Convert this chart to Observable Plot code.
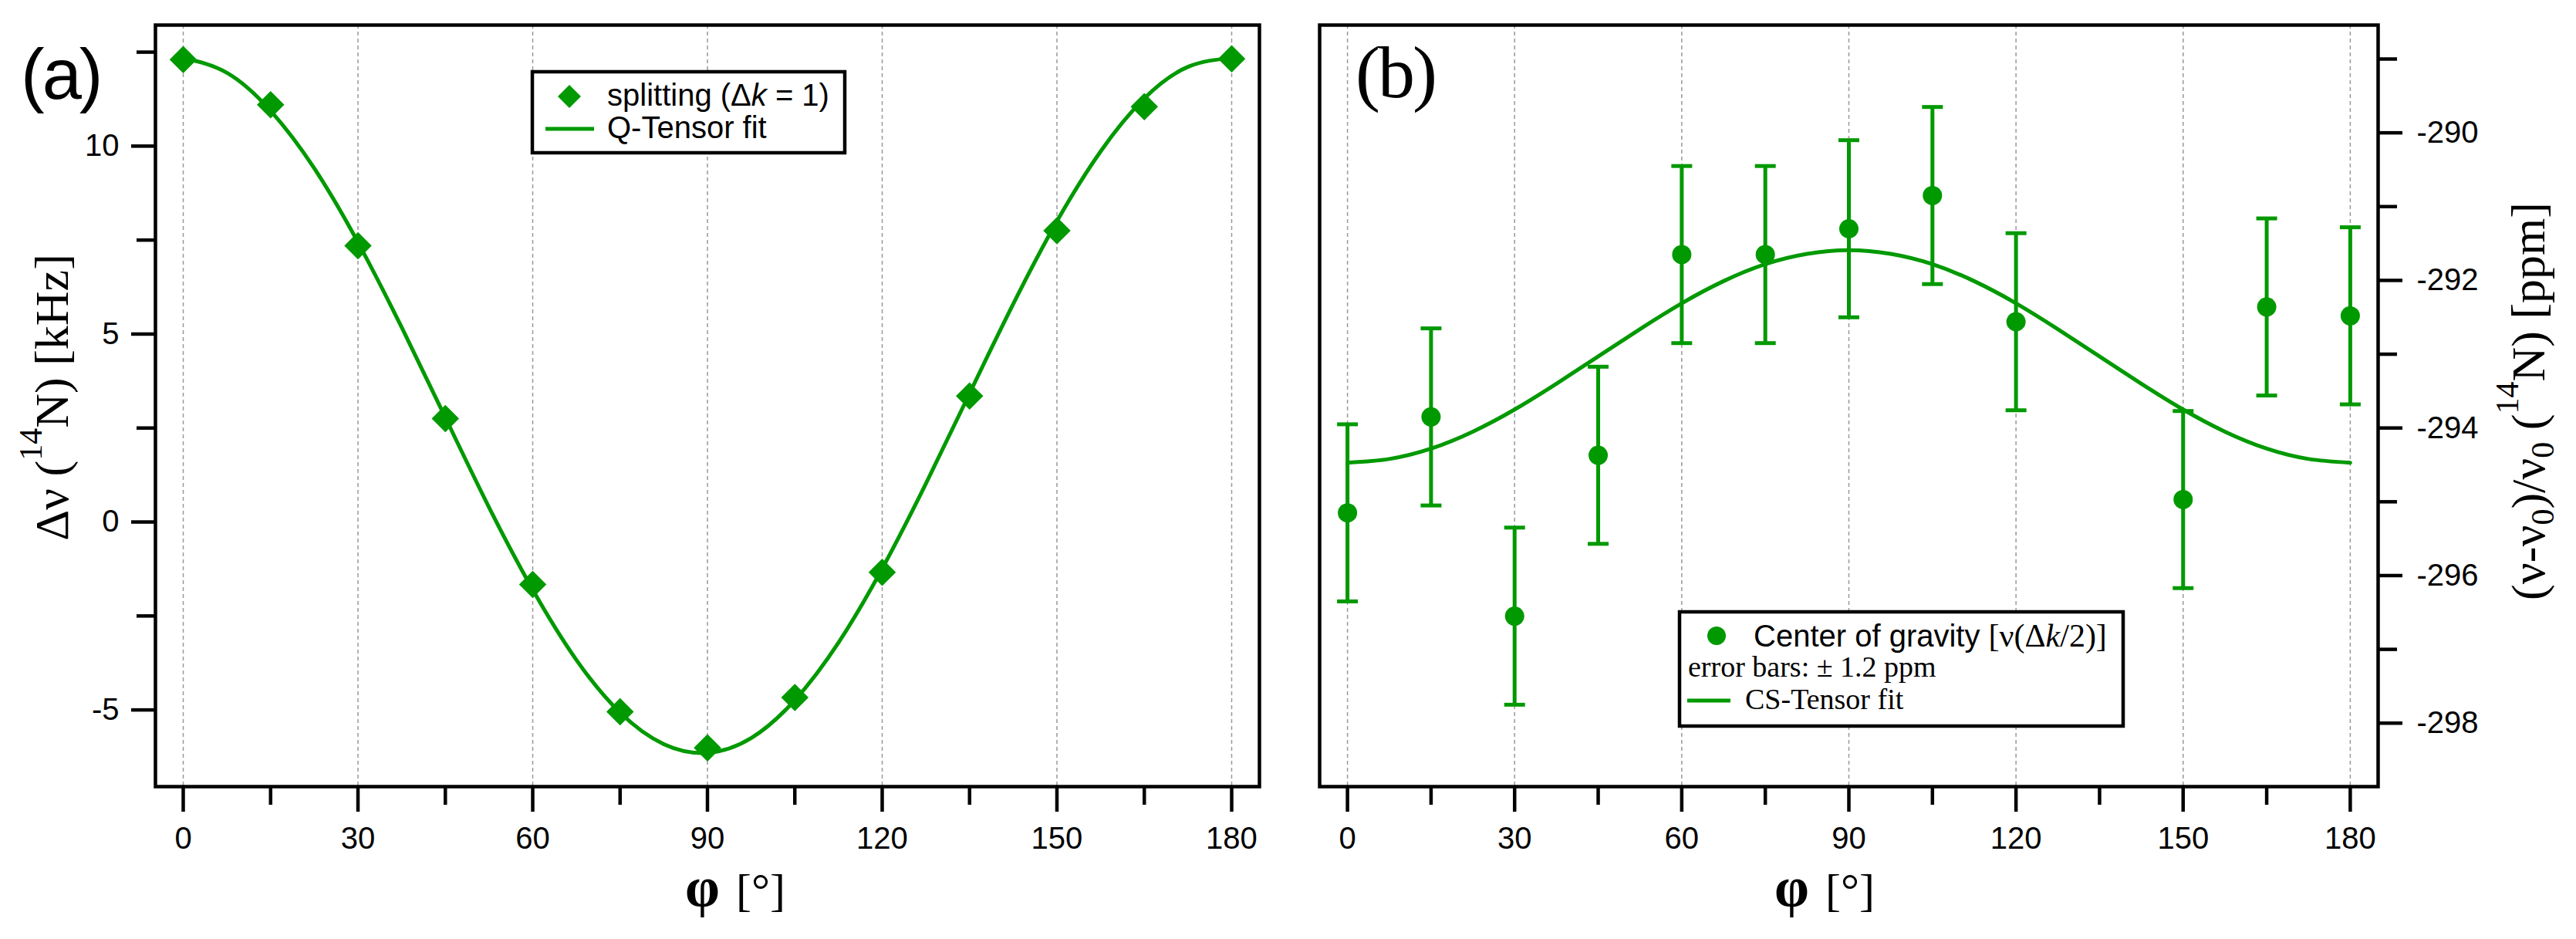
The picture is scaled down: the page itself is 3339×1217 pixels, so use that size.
<!DOCTYPE html>
<html><head><meta charset="utf-8">
<script src="https://cdn.jsdelivr.net/npm/d3@7"></script>
<script src="https://cdn.jsdelivr.net/npm/@observablehq/plot@0.6"></script>
<style>
html,body{margin:0;padding:0;background:#fff;}
#wrap{position:relative;width:3339px;height:1217px;overflow:hidden;background:#fff;}
#wrap svg{position:absolute;top:0;}
</style></head><body><div id="wrap"></div>
<script>
// ---------- data ----------
const angles = [0, 15, 30, 45, 60, 75, 90, 105, 120, 135, 150, 165, 180];
const splitting = [12.30, 11.10, 7.35, 2.75, -1.66, -5.05, -6.01, -4.67, -1.34, 3.35, 7.75, 11.05, 12.32];

const fitAngles = [0, 7.5, 15, 22.5, 30, 37.5, 45, 52.5, 60, 67.5, 75, 82.5, 90,
                   97.5, 105, 112.5, 120, 127.5, 135, 142.5, 150, 157.5, 165, 172.5, 180];
const qTensorFit = [12.34, 11.95, 10.94, 9.41, 7.44, 5.18, 2.78, 0.39, -1.80, -3.67, -5.07, -5.91, -6.14,
                    -5.75, -4.74, -3.21, -1.24, 1.02, 3.42, 5.80, 8.00, 9.86, 11.27, 12.11, 12.34];

const cogAngles = [0, 15, 30, 45, 60, 75, 90, 105, 120, 150, 165, 180];
const centerOfGravity = [-295.15, -293.85, -296.55, -294.37, -291.65, -291.65, -291.30, -290.85, -292.56, -294.97, -292.36, -292.48];
const errorBar = 1.2;
const csTensorFit = [-294.47, -294.42, -294.28, -294.05, -293.75, -293.40, -293.03, -292.66, -292.31, -292.01, -291.78, -291.64, -291.59,
                     -291.64, -291.78, -292.01, -292.31, -292.66, -293.03, -293.40, -293.75, -294.05, -294.28, -294.42, -294.47];

const majorTicksX = [0, 30, 60, 90, 120, 150, 180];
const minorTicksX = [15, 45, 75, 105, 135, 165];
const majorTicksA = [-5, 0, 5, 10];
const minorTicksA = [-2.5, 2.5, 7.5, 12.5];
const majorTicksB = [-298, -296, -294, -292, -290];
const minorTicksB = [-297, -295, -293, -291, -289];

// ---------- styles ----------
const green = "#009900";
const tf = d => String(d);
const blank = () => "";
const sans = "'Liberation Sans', Arial, Helvetica, sans-serif";
const serif = "'Liberation Serif', 'Times New Roman', serif";
const axStyle = {strokeWidth: 4.5, fontSize: 40, label: null};

const wrap = document.getElementById("wrap");

const splitData = angles.map((a, i) => ({a, v: splitting[i]}));
const qFit = fitAngles.map((a, i) => ({a, v: qTensorFit[i]}));
const cogData = cogAngles.map((a, i) => ({a, v: centerOfGravity[i], lo: centerOfGravity[i] - errorBar, hi: centerOfGravity[i] + errorBar}));
const csFit = fitAngles.map((a, i) => ({a, v: csTensorFit[i]}));

const capSymbol = {
  draw(context, size) {
    const r = Math.sqrt(size / Math.PI);
    context.moveTo(-r, 0);
    context.lineTo(r, 0);
  }
};

const grid = () => Plot.ruleX(majorTicksX, {stroke: "#999", strokeWidth: 1.5, strokeDasharray: "5,4"});

const plotA = Plot.plot({
  width: 1680, height: 1217,
  marginLeft: 201, marginRight: 48, marginTop: 32, marginBottom: 198,
  style: {fontFamily: sans, fontSize: "40px", color: "#000", background: "transparent", overflow: "visible"},
  x: {domain: [-4.77, 184.77]},
  y: {domain: [-7.04, 13.22]},
  marks: [
    grid(),
    Plot.line(qFit, {x: "a", y: "v", stroke: green, strokeWidth: 5, curve: "natural"}),
    Plot.dot(splitData, {x: "a", y: "v", symbol: "diamond2", r: 16, fill: green, stroke: "none"}),
    Plot.axisX({...axStyle, ticks: majorTicksX, tickSize: 33, tickPadding: 19, tickFormat: tf}),
    Plot.axisX({...axStyle, ticks: minorTicksX, tickSize: 24, tickFormat: blank}),
    Plot.axisY({...axStyle, ticks: majorTicksA, tickSize: 31, tickPadding: 16, tickFormat: tf}),
    Plot.axisY({...axStyle, ticks: minorTicksA, tickSize: 24, tickFormat: blank}),
    Plot.frame({stroke: "#000", strokeWidth: 4.5})
  ]
});
plotA.style.left = "0px";
wrap.appendChild(plotA);

const plotB = Plot.plot({
  width: 1659, height: 1217,
  marginLeft: 30, marginRight: 257, marginTop: 32, marginBottom: 198,
  style: {fontFamily: sans, fontSize: "40px", color: "#000", background: "transparent", overflow: "visible"},
  x: {domain: [-5, 185]},
  y: {domain: [-298.86, -288.54]},
  marks: [
    grid(),
    Plot.line(csFit, {x: "a", y: "v", stroke: green, strokeWidth: 5, curve: "natural"}),
    Plot.ruleX(cogData, {x: "a", y1: "lo", y2: "hi", stroke: green, strokeWidth: 5}),
    Plot.dot(cogData, {x: "a", y: "lo", symbol: capSymbol, r: 13.5, stroke: green, strokeWidth: 5, fill: "none"}),
    Plot.dot(cogData, {x: "a", y: "hi", symbol: capSymbol, r: 13.5, stroke: green, strokeWidth: 5, fill: "none"}),
    Plot.dot(cogData, {x: "a", y: "v", r: 12.5, fill: green, stroke: "none"}),
    Plot.axisX({...axStyle, ticks: majorTicksX, tickSize: 33, tickPadding: 19, tickFormat: tf}),
    Plot.axisX({...axStyle, ticks: minorTicksX, tickSize: 24, tickFormat: blank}),
    Plot.axisY({...axStyle, anchor: "right", ticks: majorTicksB, tickSize: 31, tickPadding: 19, tickFormat: tf}),
    Plot.axisY({...axStyle, anchor: "right", ticks: minorTicksB, tickSize: 24, tickFormat: blank}),
    Plot.frame({stroke: "#000", strokeWidth: 4.5})
  ]
});
plotB.style.left = "1680px";
wrap.appendChild(plotB);

// ---------- overlay: panel letters, axis titles, legends ----------
const ov = d3.select(wrap).append("svg")
  .attr("width", 3339).attr("height", 1217)
  .style("left", "0px").style("pointer-events", "none");

ov.append("text").attr("x", 27).attr("y", 128)
  .attr("font-family", sans).attr("font-size", 92).attr("font-weight", 300)
  .attr("letter-spacing", -3).text("(a)");
ov.append("text").attr("x", 1757).attr("y", 126)
  .attr("font-family", serif).attr("font-size", 96).attr("letter-spacing", -3).text("(b)");

// y label (a)
{
  const t = ov.append("text").attr("transform", "translate(88,515) rotate(-90)")
    .attr("text-anchor", "middle").attr("font-family", serif).attr("font-size", 62);
  t.append("tspan").text("Δν (");
  t.append("tspan").attr("dy", -34).attr("font-size", 42).text("14");
  t.append("tspan").attr("dy", 34).text("N) [kHz]");
}
// y label (b)
{
  const t = ov.append("text").attr("transform", "translate(3298,520) rotate(-90)")
    .attr("text-anchor", "middle").attr("font-family", serif).attr("font-size", 62);
  t.append("tspan").text("(ν-ν");
  t.append("tspan").attr("dy", 12).attr("font-size", 42).text("0");
  t.append("tspan").attr("dy", -12).text(")/ν");
  t.append("tspan").attr("dy", 12).attr("font-size", 42).text("0");
  t.append("tspan").attr("dy", -12).text(" (");
  t.append("tspan").attr("dy", -34).attr("font-size", 42).text("14");
  t.append("tspan").attr("dy", 34).text("N) [ppm]");
}
// x labels
for (const x0 of [888, 2300]) {
  const t = ov.append("text").attr("x", x0).attr("y", 1174)
    .attr("font-family", serif).attr("font-size", 60);
  t.append("tspan").attr("font-size", 72).attr("font-weight", "bold").text("φ");
  t.append("tspan").attr("dx", 6).text(" [°]");
}

// legend (a)
ov.append("rect").attr("x", 690).attr("y", 93).attr("width", 405).attr("height", 105)
  .attr("fill", "#fff").attr("stroke", "#000").attr("stroke-width", 4.5);
ov.append("path").attr("d", "M738,110L753,125L738,140L723,125Z").attr("fill", green);
ov.append("line").attr("x1", 707).attr("x2", 770).attr("y1", 167).attr("y2", 167)
  .attr("stroke", green).attr("stroke-width", 5);
{
  const t = ov.append("text").attr("x", 787).attr("y", 137).attr("font-family", sans).attr("font-size", 40);
  t.append("tspan").text("splitting (Δ");
  t.append("tspan").attr("font-style", "italic").text("k");
  t.append("tspan").text(" = 1)");
  ov.append("text").attr("x", 787).attr("y", 179).attr("font-family", sans).attr("font-size", 40).text("Q-Tensor fit");
}

// legend (b)
ov.append("rect").attr("x", 2177).attr("y", 793).attr("width", 575).attr("height", 148)
  .attr("fill", "#fff").attr("stroke", "#000").attr("stroke-width", 4.5);
ov.append("circle").attr("cx", 2225).attr("cy", 824).attr("r", 12).attr("fill", green);
{
  const t = ov.append("text").attr("x", 2273).attr("y", 838);
  t.append("tspan").attr("font-family", sans).attr("font-size", 40).text("Center of gravity ");
  t.append("tspan").attr("font-family", serif).attr("font-size", 42).text("[ν(Δ");
  t.append("tspan").attr("font-family", serif).attr("font-size", 42).attr("font-style", "italic").text("k");
  t.append("tspan").attr("font-family", serif).attr("font-size", 42).text("/2)]");
}
ov.append("text").attr("x", 2188).attr("y", 877).attr("font-family", serif).attr("font-size", 38)
  .text("error bars: ± 1.2 ppm");
ov.append("line").attr("x1", 2187).attr("x2", 2243).attr("y1", 908).attr("y2", 908)
  .attr("stroke", green).attr("stroke-width", 5);
ov.append("text").attr("x", 2262).attr("y", 919).attr("font-family", serif).attr("font-size", 38)
  .text("CS-Tensor fit");
</script>
</body></html>
